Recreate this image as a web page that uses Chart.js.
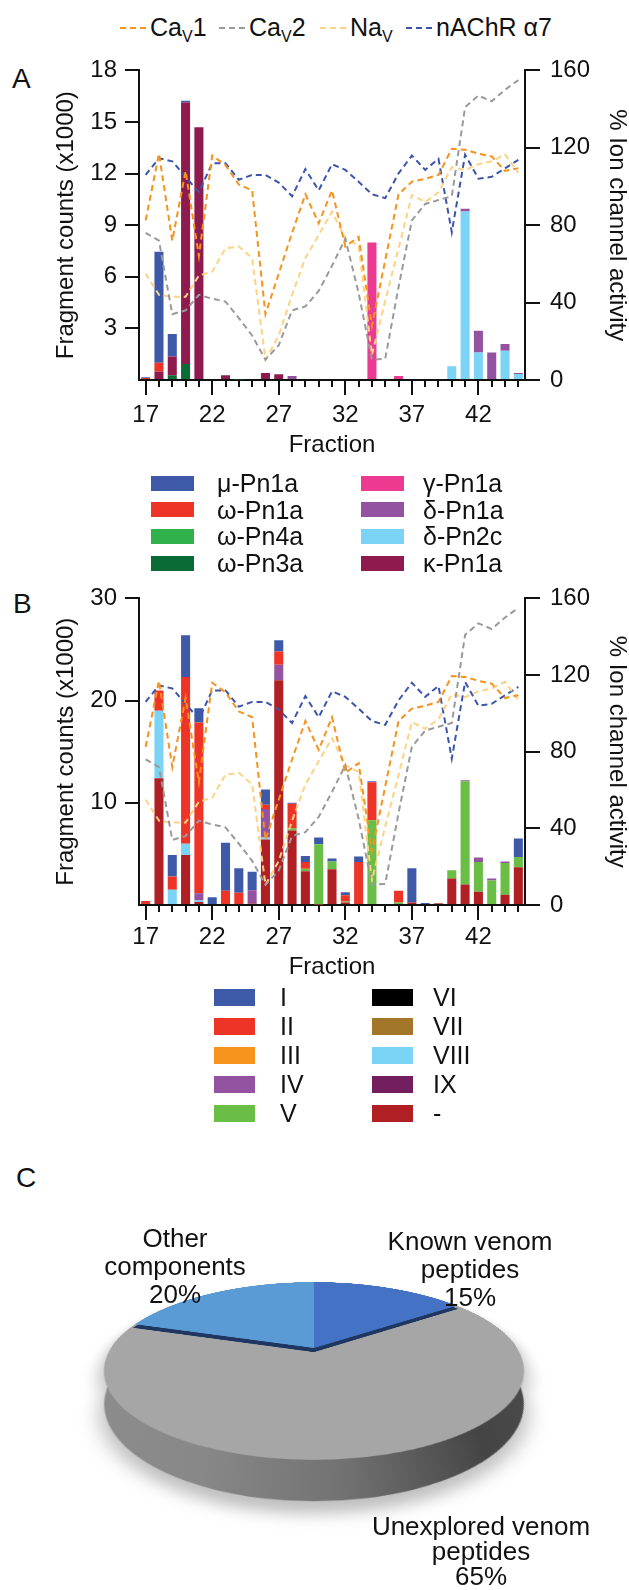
<!DOCTYPE html>
<html lang="en">
<head>
<meta charset="utf-8">
<title>Venom fraction activity</title>
<script src="https://cdn.jsdelivr.net/npm/chart.js@4.4.1/dist/chart.umd.min.js"></script>
<style>
  html, body { margin: 0; padding: 0; background: #fff; }
  body { position: relative; width: 629px; height: 1590px; overflow: hidden;
         font-family: 'Liberation Sans', Arial, Helvetica, sans-serif; color: #111; }
  .pos { position: absolute; white-space: nowrap; }
  .letter { font-size: 28px; line-height: 28px; }
  .key { font-size: 25px; line-height: 25px; }
  .key sub { font-size: 16px; line-height: 0; vertical-align: -6px; }
  .lbl { font-size: 25px; line-height: 26px; }
  .pie-lbl { font-size: 26px; line-height: 28px; text-align: center; }
  canvas { position: absolute; }
</style>
</head>
<body>
<div class="pos letter" style="left:12px;top:65px">A</div>
<div class="pos letter" style="left:13px;top:590px">B</div>
<div class="pos letter" style="left:16px;top:1164px">C</div>

<canvas id="chartA" width="629" height="434" style="left:0;top:46px"></canvas>
<canvas id="chartB" width="629" height="431" style="left:0;top:574px"></canvas>
<canvas id="chartC" width="426" height="480"
        style="left:101px;top:1135px;transform-origin:213px 213px;transform:perspective(718px) rotateX(65.89deg);filter:drop-shadow(0 14px 8px rgba(0,0,0,0.25))"></canvas>

<div id="keyTop"></div>
<div id="keyA"></div>
<div id="keyB"></div>

<div class="pos pie-lbl" style="left:65px;top:1224px;width:220px">Other<br>components<br>20%</div>
<div class="pos pie-lbl" style="left:360px;top:1227px;width:220px">Known venom<br>peptides<br>15%</div>
<div class="pos pie-lbl" style="left:356px;top:1514px;width:250px;line-height:25px">Unexplored venom<br>peptides<br>65%</div>

<script>
(function () {
  'use strict';

  // fractions 17..45
  var fractions = ['17', '18', '19', '20', '21', '22', '23', '24', '25', '26', '27', '28', '29', '30', '31',
                   '32', '33', '34', '35', '36', '37', '38', '39', '40', '41', '42', '43', '44', '45'];

  // Panel A — fragment counts (x1000) per known toxin
  var muPn1a    = [0.04, 6.45, 1.3, 0.1, 0,  0, 0, 0, 0, 0,  0, 0, 0, 0, 0,  0, 0, 0, 0, 0,  0, 0, 0, 0, 0,  0, 0, 0, 0];
  var omegaPn1a = [0.12, 0.5, 0, 0, 0,  0, 0, 0, 0, 0,  0, 0, 0, 0, 0,  0, 0, 0, 0, 0,  0, 0, 0, 0, 0,  0, 0, 0, 0];
  var omegaPn4a = [0, 0, 0, 0, 0,  0, 0, 0.05, 0, 0,  0, 0, 0, 0, 0,  0, 0, 0, 0, 0,  0, 0, 0, 0, 0,  0, 0, 0, 0];
  var omegaPn3a = [0, 0, 0.27, 0.93, 0,  0, 0, 0, 0, 0,  0, 0, 0, 0, 0,  0, 0, 0, 0, 0,  0, 0, 0, 0, 0,  0, 0, 0, 0];
  var gammaPn1a = [0, 0, 0, 0, 0,  0, 0, 0, 0, 0,  0, 0, 0, 0, 0,  0, 0, 8.0, 0, 0.23,  0, 0, 0, 0, 0,  0, 0, 0, 0];
  var deltaPn1a = [0, 0, 0, 0, 0,  0, 0, 0, 0, 0,  0, 0.23, 0, 0, 0,  0, 0, 0, 0, 0,  0, 0, 0, 0, 0.15,  1.27, 1.6, 0.4, 0.05];
  var deltaPn2c = [0, 0, 0, 0, 0,  0, 0, 0, 0, 0,  0, 0, 0, 0, 0,  0, 0, 0, 0, 0,  0, 0, 0, 0.8, 9.8,  1.6, 0, 1.7, 0.35];
  var kappaPn1a = [0, 0.5, 1.1, 15.2, 14.7,  0, 0.27, 0, 0, 0.4,  0.33, 0, 0, 0, 0,  0, 0, 0, 0, 0,  0, 0, 0, 0, 0,  0, 0, 0, 0];

  // Panel B — fragment counts (x1000) per cysteine framework class
  var classI    = [0, 0, 2.1, 4.1, 1.4,  0.65, 4.7, 2.4, 1.8, 1.5,  1.1, 0.1, 0.6, 0.65, 0.3,  0.3, 0.55, 0.1, 0, 0,  3.35, 0.2, 0, 0, 0,  0, 0, 0, 1.8];
  var classII   = [0.3, 2.0, 1.3, 16.3, 16.7,  0, 1.4, 1.2, 0, 0.4,  1.3, 2.4, 0.65, 0, 0,  0.6, 4.2, 3.7, 0, 1.15,  0, 0, 0, 0, 0,  0, 0, 0, 0];
  var classIII  = [0, 0, 0, 0, 0,  0, 0, 0, 0, 0,  0, 0, 0, 0, 0,  0, 0, 0, 0, 0,  0, 0, 0, 0, 0,  0, 0, 0, 0];
  var classIV   = [0, 0, 0, 0, 0.7,  0, 0, 0, 1.3, 2.8,  1.5, 0, 0, 0, 0,  0, 0, 0, 0, 0,  0, 0, 0, 0, 0.1,  0.45, 0.2, 0.15, 0];
  var classV    = [0, 0, 0, 0, 0,  0, 0, 0, 0, 0,  0, 0.2, 0.25, 5.9, 0.75,  0.1, 0, 8.3, 0, 0.25,  0, 0, 0, 0.8, 10.1,  2.9, 2.4, 3.1, 1.0];
  var classVI   = [0, 0, 0, 0, 0,  0, 0, 0, 0, 0,  0, 0, 0, 0, 0,  0, 0, 0, 0, 0,  0, 0, 0, 0, 0,  0, 0, 0, 0];
  var classVII  = [0, 0, 0, 0, 0,  0, 0, 0, 0, 0,  0, 0, 0, 0, 0,  0, 0, 0, 0, 0,  0, 0, 0.05, 0, 0,  0, 0, 0, 0];
  var classVIII = [0, 6.6, 1.5, 1.1, 0.15,  0, 0, 0, 0, 0.2,  0, 0, 0, 0, 0,  0, 0, 0, 0, 0,  0, 0, 0, 0, 0,  0, 0, 0, 0];
  var classIX   = [0, 0, 0, 0, 0,  0, 0, 0, 0, 0,  0, 0, 0, 0, 0,  0, 0, 0, 0, 0,  0, 0, 0, 0, 0,  0, 0, 0, 0];
  var unassigned = [0.1, 12.4, 0, 4.9, 0.3,  0.1, 0, 0, 0.15, 6.4,  22.0, 7.3, 3.3, 0.05, 3.5,  0.25, 0, 0, 0, 0,  0.25, 0, 0.15, 2.6, 2.0,  1.3, 0, 1.0, 3.7];

  // % ion channel activity (same traces on both panels)
  var cav1  = [82.5, 117, 72, 108, 64,  116, 111, 101, 98, 34,  55, 76, 96, 81, 98,  69, 74, 28, 62, 96,  102.5, 104, 106, 119.5, 119,  117, 115.5, 108, 109.5];
  var cav2  = [76, 72, 34, 36, 44,  42, 40.5, 32, 23, 10.5,  18, 36, 38, 46, 59,  73, 45, 10.5, 11, 48,  82.5, 91, 93, 95, 141,  147, 144, 150, 155];
  var nav   = [55, 44, 43, 43, 54,  56, 68, 69, 63, 10.5,  23, 44, 63, 75, 87,  73, 69.5, 13, 41, 68,  95.5, 92, 97, 110, 108.5,  111.5, 113, 116.5, 107];
  var nachr = [106, 114.6, 113, 105, 97,  112, 112, 103.5, 106, 106,  102, 95, 109, 98, 111.5,  108.6, 102.5, 96, 94, 106.8,  116, 108.6, 114.3, 76.4, 116.4,  104, 105, 109.4, 113.8];

  var activityNames = ['CaV1', 'CaV2', 'NaV', 'nAChR α7'];
  var activityKeys = ['Ca<sub>V</sub>1', 'Ca<sub>V</sub>2', 'Na<sub>V</sub>', 'nAChR α7'];
  var activitySeries = [cav1, cav2, nav, nachr];

  // Panel C
  var pieLabels = ['Known venom peptides', 'Unexplored venom peptides', 'Other components'];
  var pieValues = [15, 65, 20];

  // ---- styles ----
  var ink = '#111';
  var activityColors = ['#f6921e', '#9a9a9a', '#fdd283', '#3b55ad'];

  // legend order (columns top to bottom)
  var toxinNames  = ['μ-Pn1a', 'ω-Pn1a', 'ω-Pn4a', 'ω-Pn3a', 'γ-Pn1a', 'δ-Pn1a', 'δ-Pn2c', 'κ-Pn1a'];
  var toxinColors = ['#3d59a8', '#ee3426', '#2fb14b', '#0b6b37', '#ec3a90', '#9453a0', '#7bd3f6', '#8f1b4e'];
  var toxinData   = [muPn1a, omegaPn1a, omegaPn4a, omegaPn3a, gammaPn1a, deltaPn1a, deltaPn2c, kappaPn1a];
  var toxinStack  = [7, 3, 1, 0, 4, 6, 5, 2]; // stacking rank of each legend entry, 0 = bottom

  var classNames  = ['I', 'II', 'III', 'IV', 'V', 'VI', 'VII', 'VIII', 'IX', '-'];
  var classColors = ['#3d59a8', '#ee3426', '#f7941d', '#9453a0', '#6abd45', '#000000', '#a37729', '#7bd3f6', '#731f5f', '#b01f24'];
  var classData   = [classI, classII, classIII, classIV, classV, classVI, classVII, classVIII, classIX, unassigned];
  var classStack  = [9, 8, 7, 6, 4, 3, 2, 5, 1, 0];

  var pieColors = ['#4472c4', '#a6a6a6', '#5b9bd5'];

  Chart.defaults.font.family = "'Liberation Sans', Arial, sans-serif";
  Chart.defaults.color = ink;

  function orderedBars(names, colors, data, order) {
    var idx = names.map(function (n, i) { return i; });
    idx.sort(function (a, b) { return order[a] - order[b]; });
    return idx.map(function (i) {
      return {
        type: 'bar', label: names[i], data: data[i], backgroundColor: colors[i],
        borderWidth: 0, xAxisID: 'x', yAxisID: 'y', stack: 'frag',
        barPercentage: 0.68, categoryPercentage: 1, order: 1
      };
    });
  }

  function activityLines() {
    return activitySeries.map(function (s, i) {
      return {
        type: 'line', label: activityNames[i], data: s, xAxisID: 'x', yAxisID: 'y2',
        borderColor: activityColors[i], borderWidth: 2, borderDash: [6, 4],
        pointRadius: 0, fill: false, tension: 0, order: 0
      };
    });
  }

  function panel(id, bars, cfg) {
    return new Chart(document.getElementById(id), {
      type: 'bar',
      data: { labels: fractions, datasets: bars.concat(activityLines()) },
      options: {
        responsive: false,
        animation: false,
        events: [],
        layout: { padding: { top: 12, left: 0, right: 0, bottom: 0 } },
        plugins: { legend: { display: false }, tooltip: { enabled: false } },
        scales: {
          x: {
            type: 'category', position: 'bottom', weight: 1, stacked: true, offset: true,
            grid: {
              offset: false, drawOnChartArea: false, tickLength: 15, lineWidth: 2,
              tickColor: function (c) { return c.index % 5 === 0 ? ink : 'rgba(0,0,0,0)'; }
            },
            border: { color: ink, width: 2 },
            ticks: {
              autoSkip: false, maxRotation: 0, padding: cfg.xPad, color: ink, font: { size: 24 },
              callback: function (v, i) { return i % 5 === 0 ? fractions[i] : ''; }
            },
            title: { display: true, text: 'Fraction', color: ink, font: { size: 24, lineHeight: 1 },
                     padding: { top: 0, bottom: cfg.titlePad } },
            afterFit: function (s) { s.height = cfg.xHeight; }
          },
          xMinor: {
            type: 'category', position: 'bottom', weight: 0, offset: true,
            grid: { offset: false, drawOnChartArea: false, tickLength: 7, lineWidth: 2, color: ink },
            border: { display: false },
            ticks: { display: false },
            afterFit: function (s) { s.height = 0; }
          },
          y: {
            position: 'left', stacked: true, min: 0, max: cfg.yMax,
            grid: {
              drawOnChartArea: false, tickLength: 14, lineWidth: 2,
              tickColor: function (c) { return c.tick && c.tick.value === 0 ? 'rgba(0,0,0,0)' : ink; }
            },
            border: { color: ink, width: 2 },
            ticks: {
              stepSize: cfg.yStep, padding: 8, color: ink, font: { size: 24 },
              callback: function (v) { return v === 0 ? '' : v; }
            },
            title: { display: true, text: 'Fragment counts (x1000)', color: ink,
                     font: { size: 24, lineHeight: 1 }, padding: { top: 54, bottom: 0 } },
            afterFit: function (s) { s.width = 139; }
          },
          y2: {
            position: 'right', min: 0, max: 160,
            grid: { drawOnChartArea: false, tickLength: 15, lineWidth: 2, color: ink },
            border: { color: ink, width: 2 },
            ticks: { stepSize: 40, padding: 10, color: ink, font: { size: 24 } },
            title: { display: true, text: '% Ion channel activity', color: ink,
                     font: { size: 24, lineHeight: 1 }, padding: { top: 0, bottom: 0 } },
            afterFit: function (s) { s.width = 104; }
          }
        }
      }
    });
  }

  panel('chartA', orderedBars(toxinNames, toxinColors, toxinData, toxinStack),
        { yMax: 18, yStep: 3, xPad: 6, titlePad: 23, xHeight: 100 });
  panel('chartB', orderedBars(classNames, classColors, classData, classStack),
        { yMax: 30, yStep: 10, xPad: 3, titlePad: 26, xHeight: 100 });

  // ---- panel C: flat pie tilted by CSS perspective, with a drawn side wall ----
  // side wall = hull of the face and a smaller circle further down the plane,
  // so the tilted outline keeps near-vertical edges
  var wallDrop = 69;
  var wallRadius = 185;
  var rimShift = 10;
  var rimColor = '#1f3760';
  var raisedSlices = [0, 2];
  var sideStops = [[0, '#8d8d8d'], [0.3, '#888'], [0.55, '#727272'], [0.82, '#444'], [0.95, '#4a4a4a'], [1, '#5e5e5e']];

  var pieSolid = {
    id: 'pieSolid',
    beforeDatasetsDraw: function (chart) {
      var arcs = chart.getDatasetMeta(0).data;
      if (!arcs.length) return;
      var a = arcs[0], ctx = chart.ctx, r = a.outerRadius;
      var g = ctx.createLinearGradient(a.x - r, 0, a.x + r, 0);
      sideStops.forEach(function (s) { g.addColorStop(s[0], s[1]); });
      ctx.save();
      ctx.fillStyle = g;
      ctx.beginPath();
      ctx.arc(a.x, a.y, r, Math.PI, 0, false);
      ctx.lineTo(a.x + wallRadius, a.y + wallDrop);
      ctx.arc(a.x, a.y + wallDrop, wallRadius, 0, Math.PI, false);
      ctx.closePath();
      ctx.fill();
      ctx.restore();
    },
    afterDatasetsDraw: function (chart) {
      var arcs = chart.getDatasetMeta(0).data, ctx = chart.ctx;
      raisedSlices.forEach(function (i) {
        var a = arcs[i];
        ctx.save();
        ctx.translate(0, rimShift);
        ctx.fillStyle = rimColor;
        ctx.beginPath();
        ctx.moveTo(a.x, a.y);
        ctx.arc(a.x, a.y, a.outerRadius, a.startAngle, a.endAngle);
        ctx.closePath();
        ctx.fill();
        ctx.restore();
      });
      raisedSlices.forEach(function (i) { arcs[i].draw(ctx); });
    }
  };

  new Chart(document.getElementById('chartC'), {
    type: 'pie',
    data: { labels: pieLabels, datasets: [{ data: pieValues, backgroundColor: pieColors, borderWidth: 0 }] },
    options: {
      responsive: false, animation: false, events: [], rotation: 0,
      layout: { padding: { top: 10, left: 10, right: 10, bottom: 64 } },
      plugins: { legend: { display: false }, tooltip: { enabled: false } }
    },
    plugins: [pieSolid]
  });

  // ---- keys ----
  function el(parent, cls, css, html) {
    var d = document.createElement('div');
    d.className = 'pos ' + cls;
    d.style.cssText = css;
    if (html != null) d.innerHTML = html;
    parent.appendChild(d);
    return d;
  }

  var keyTop = document.getElementById('keyTop');
  var keyTopX = [120, 219, 320, 406];
  activityKeys.forEach(function (k, i) {
    var c = activityColors[i];
    el(keyTop, '', 'left:' + keyTopX[i] + 'px;top:27px;width:27px;height:2px;' +
       'background:repeating-linear-gradient(90deg,' + c + ' 0 6px,transparent 6px 10px)');
    el(keyTop, 'key', 'left:' + (keyTopX[i] + 30) + 'px;top:15px', k);
  });

  function boxKey(holder, names, colors, g) {
    names.forEach(function (n, i) {
      var col = Math.floor(i / g.rows), row = i % g.rows;
      var cy = g.top + row * g.step;
      el(holder, '', 'left:' + g.swX[col] + 'px;top:' + (cy - g.swH / 2) + 'px;width:' + g.swW + 'px;height:' +
         g.swH + 'px;background:' + colors[i]);
      el(holder, 'lbl', 'left:' + g.txX[col] + 'px;top:' + (cy - 13) + 'px', n);
    });
  }

  boxKey(document.getElementById('keyA'), toxinNames, toxinColors,
         { rows: 4, top: 483, step: 26.7, swX: [151, 361], txX: [217, 423], swW: 43, swH: 15 });
  boxKey(document.getElementById('keyB'), classNames, classColors,
         { rows: 5, top: 997, step: 29, swX: [214, 372], txX: [280, 433], swW: 41, swH: 17 });
})();
</script>
</body>
</html>
